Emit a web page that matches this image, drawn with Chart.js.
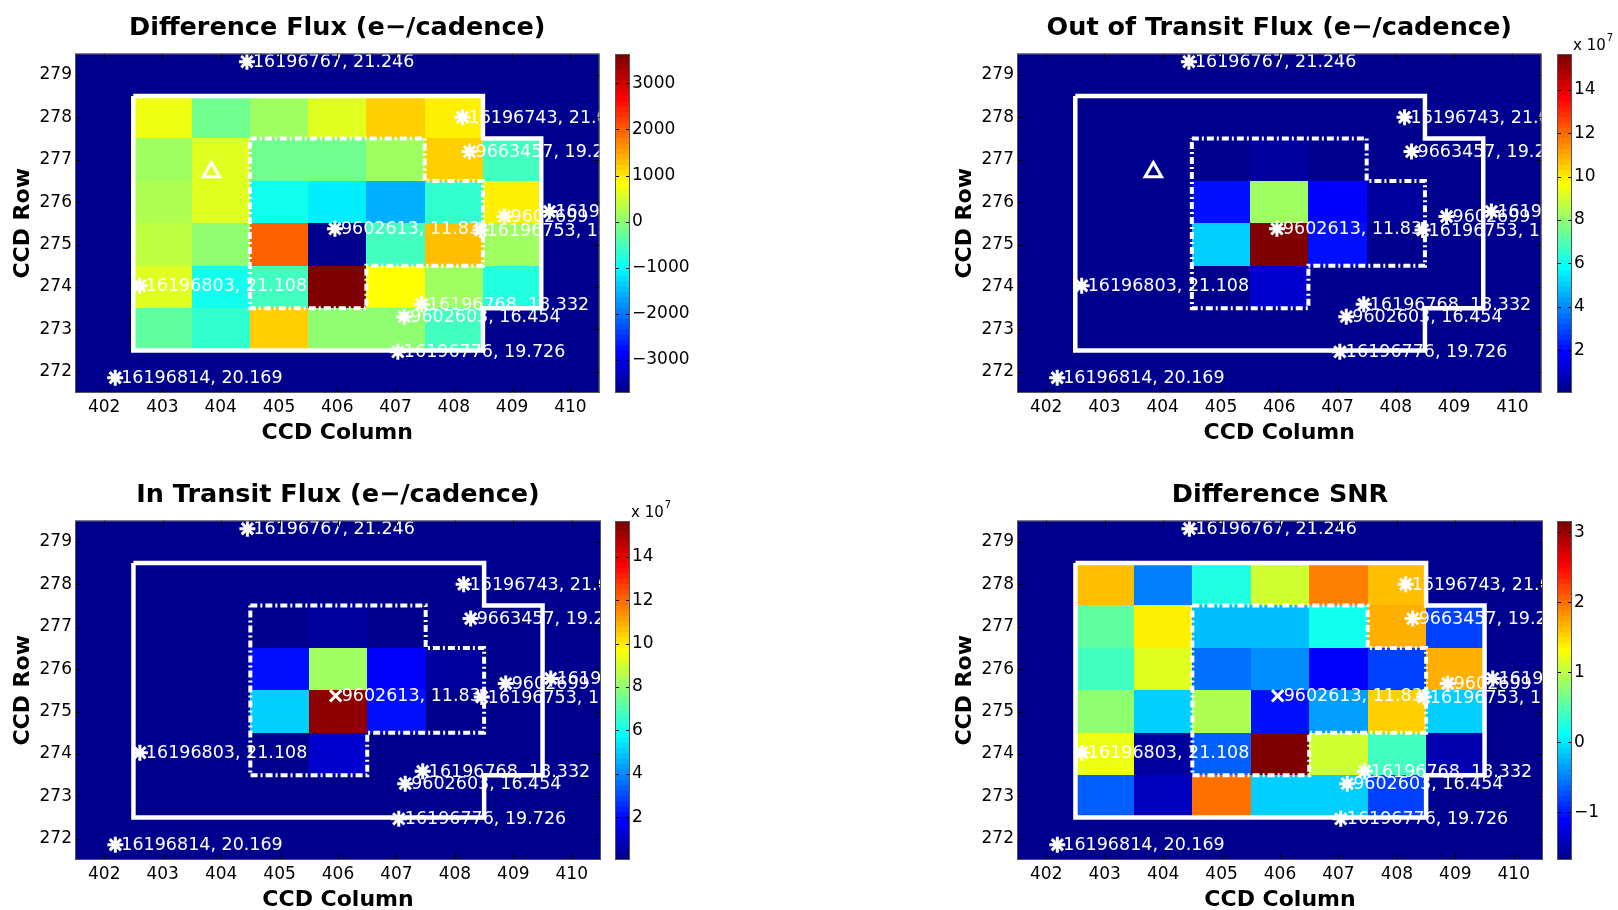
<!DOCTYPE html>
<html>
<head>
<meta charset="utf-8">
<script src="https://cdn.jsdelivr.net/npm/chart.js@4.4.1/dist/chart.umd.min.js"></script>
<style>
  html, body { margin: 0; padding: 0; background: #fff; width: 1618px; height: 910px; overflow: hidden; }
  canvas { position: absolute; }
</style>
</head>
<body>
<canvas id="p1" width="612" height="445" style="left:0;top:0"></canvas>
<canvas id="c1" width="90" height="445" style="left:612px;top:0"></canvas>
<canvas id="p2" width="612" height="445" style="left:942px;top:0"></canvas>
<canvas id="c2" width="64" height="445" style="left:1554px;top:0"></canvas>
<canvas id="p3" width="612" height="445" style="left:0;top:467px"></canvas>
<canvas id="c3" width="90" height="445" style="left:612px;top:467px"></canvas>
<canvas id="p4" width="612" height="445" style="left:942px;top:467px"></canvas>
<canvas id="c4" width="64" height="445" style="left:1554px;top:467px"></canvas>
<script>
// ─── Data ────────────────────────────────────────────────────────────────

const COLS = [403, 404, 405, 406, 407, 408, 409];
const ROWS = [278, 277, 276, 275, 274, 273];
const X_TICKS = [402, 403, 404, 405, 406, 407, 408, 409, 410];
const Y_TICKS = [272, 273, 274, 275, 276, 277, 278, 279];

// pixel values, rows top to bottom, null = outside aperture
const diffFlux = [
  [720, -190, 150, 610, 1180, 950, null],
  [150, 610, -190, -190, 150, 1180, -530],
  [270, 610, -880, -1110, -1560, -650, 950],
  [380, 40, 1980, -3620, -530, 1300, 150],
  [610, -880, -530, 3590, 840, 150, -760],
  [-300, -650, 1180, 40, 40, -530, null],
];

// e-/cadence, x 10^7
const outFlux = [
  [0.12, 0.13, 0.15, 0.16, 0.15, 0.13, null],
  [0.14, 0.17, 0.20, 0.45, 0.22, 0.16, 0.12],
  [0.15, 0.19, 2.10, 8.20, 1.90, 0.50, 0.14],
  [0.16, 0.21, 5.00, 15.5, 2.20, 0.22, 0.15],
  [0.14, 0.18, 0.22, 1.10, 0.21, 0.15, 0.13],
  [0.12, 0.14, 0.16, 0.17, 0.15, 0.13, null],
];

const inFlux = [
  [0.12, 0.13, 0.15, 0.16, 0.15, 0.13, null],
  [0.14, 0.17, 0.20, 0.44, 0.22, 0.16, 0.12],
  [0.15, 0.19, 2.05, 8.10, 1.88, 0.48, 0.14],
  [0.16, 0.21, 4.95, 15.3, 2.15, 0.21, 0.15],
  [0.14, 0.18, 0.22, 1.08, 0.21, 0.15, 0.13],
  [0.12, 0.14, 0.16, 0.17, 0.15, 0.13, null],
];

const diffSnr = [
  [1.61, -0.51, 0.25, 1.08, 1.92, 1.61, null],
  [0.55, 1.38, -0.21, -0.21, 0.17, 1.69, -0.81],
  [0.40, 1.15, -0.58, -0.43, -1.10, -0.81, 1.69],
  [0.78, -0.13, 0.93, -1.04, -0.36, 1.54, -0.13],
  [1.23, -1.57, -0.66, 3.12, 1.08, 0.40, -1.49],
  [-0.66, -1.42, 1.99, -0.13, -0.13, -0.81, null],
];

// colour ranges and colourbar ticks
const DIFF_RANGE = [-3716, 3636];
const DIFF_TICKS = [-3000, -2000, -1000, 0, 1000, 2000, 3000];
const FLUX_RANGE = [0.02, 15.66];
const FLUX_TICKS = [2, 4, 6, 8, 10, 12, 14];
const SNR_RANGE = [-1.68, 3.16];
const SNR_TICKS = [-1, 0, 1, 2, 3];

// aperture outlines (pixel edges)
const APERTURE_X = [402.5, 408.5, 408.5, 409.5, 409.5, 408.5, 408.5, 402.5, 402.5];
const APERTURE_Y = [278.5, 278.5, 277.5, 277.5, 273.5, 273.5, 272.5, 272.5, 278.5];
const OPTIMAL_X = [404.5, 407.5, 407.5, 408.5, 408.5, 406.5, 406.5, 404.5, 404.5];
const OPTIMAL_Y = [277.5, 277.5, 276.5, 276.5, 274.5, 274.5, 273.5, 273.5, 277.5];

// nearby stars
const STAR_X = [404.45, 408.15, 408.27, 409.64, 408.87, 408.46, 405.96, 402.61, 407.45, 407.15, 407.04, 402.19];
const STAR_Y = [279.31, 278.00, 277.19, 275.78, 275.66, 275.34, 275.37, 274.03, 273.59, 273.30, 272.47, 271.86];
const STAR_TEXT = ['16196767, 21.246', '16196743, 21.0', '9663457, 19.2', '16196', '9602699',
  '16196753, 18', '9602613, 11.83', '16196803, 21.108', '16196768, 18.332',
  '9602603, 16.454', '16196776, 19.726', '16196814, 20.169'];
const TARGET_INDEX = 6;

// centroid triangle
const TRIANGLE_X = [403.84];
const TRIANGLE_Y = [276.71];

// ─── Colour map (MATLAB jet, 64 levels) ──────────────────────────────────

function jet(k) {
  const c = v => Math.round(255 * Math.max(0, Math.min(1, v)));
  let r, g, b;
  if (k <= 7)       { r = 0; g = 0; b = 0.5625 + 0.0625 * k; }
  else if (k <= 23) { r = 0; g = 0.0625 * (k - 7); b = 1; }
  else if (k <= 39) { r = 0.0625 * (k - 23); g = 1; b = 1 - 0.0625 * (k - 23); }
  else if (k <= 55) { r = 1; g = 1 - 0.0625 * (k - 39); b = 0; }
  else              { r = 1 - 0.0625 * (k - 55); g = 0; b = 0; }
  return `rgb(${c(r)},${c(g)},${c(b)})`;
}

function colorFor(v, range) {
  const k = Math.floor((v - range[0]) / (range[1] - range[0]) * 64);
  return jet(Math.max(0, Math.min(63, k)));
}

const FONT = '"DejaVu Sans", "Liberation Sans", sans-serif';
Chart.defaults.font.family = FONT;
Chart.defaults.color = '#000';

const minus = v => (v < 0 ? '\u2212' + Math.abs(v) : String(v));

// ─── Plugins ─────────────────────────────────────────────────────────────

const heatmapPlugin = {
  id: 'heatmap',
  beforeDatasetsDraw(chart, args, opts) {
    const { ctx, chartArea: a, scales: { x, y } } = chart;
    ctx.save();
    ctx.fillStyle = jet(0);
    ctx.fillRect(a.left, a.top, a.width, a.height);
    opts.values.forEach((row, i) => row.forEach((v, j) => {
      if (v === null) return;
      const x0 = Math.round(x.getPixelForValue(COLS[j] - 0.5));
      const x1 = Math.round(x.getPixelForValue(COLS[j] + 0.5));
      const y0 = Math.round(y.getPixelForValue(ROWS[i] + 0.5));
      const y1 = Math.round(y.getPixelForValue(ROWS[i] - 0.5));
      ctx.fillStyle = colorFor(v, opts.range);
      ctx.fillRect(x0, y0, x1 - x0, y1 - y0);
    }));
    ctx.restore();
  },
  afterDatasetsDraw(chart) {
    const { ctx, chartArea: a, scales: { x, y } } = chart;
    // star labels, clipped to the axes
    ctx.save();
    ctx.beginPath();
    ctx.rect(a.left, a.top, a.width, a.height);
    ctx.clip();
    ctx.font = '17.5px ' + FONT;
    ctx.fillStyle = '#fff';
    ctx.textAlign = 'left';
    ctx.textBaseline = 'middle';
    STAR_TEXT.forEach((t, i) => {
      ctx.fillText(t, x.getPixelForValue(STAR_X[i]) + 6, y.getPixelForValue(STAR_Y[i]) + 1);
    });
    ctx.restore();

    // inner tick marks and box
    ctx.save();
    ctx.strokeStyle = '#000';
    ctx.lineWidth = 1;
    ctx.beginPath();
    X_TICKS.forEach(v => {
      const px = Math.round(x.getPixelForValue(v)) + 0.5;
      ctx.moveTo(px, a.bottom); ctx.lineTo(px, a.bottom - 6);
      ctx.moveTo(px, a.top); ctx.lineTo(px, a.top + 6);
    });
    Y_TICKS.forEach(v => {
      const py = Math.round(y.getPixelForValue(v)) + 0.5;
      ctx.moveTo(a.left, py); ctx.lineTo(a.left + 6, py);
      ctx.moveTo(a.right, py); ctx.lineTo(a.right - 6, py);
    });
    ctx.stroke();
    ctx.strokeStyle = '#555';
    ctx.strokeRect(a.left + 0.5, a.top + 0.5, a.width - 1, a.height - 1);
    ctx.restore();
  },
};

const colorbarPlugin = {
  id: 'colorbarDeco',
  afterDatasetsDraw(chart, args, opts) {
    const { ctx, chartArea: a, scales: { y } } = chart;
    ctx.save();
    ctx.strokeStyle = '#000';
    ctx.lineWidth = 1;
    ctx.beginPath();
    opts.ticks.forEach(v => {
      const py = Math.round(y.getPixelForValue(v)) + 0.5;
      ctx.moveTo(a.left, py); ctx.lineTo(a.left + 4, py);
      ctx.moveTo(a.right, py); ctx.lineTo(a.right - 4, py);
    });
    ctx.stroke();
    ctx.strokeStyle = '#555';
    ctx.strokeRect(a.left + 0.5, a.top + 0.5, a.width - 1, a.height - 1);
    if (opts.exponent) {
      ctx.fillStyle = '#000';
      ctx.textBaseline = 'alphabetic';
      ctx.textAlign = 'left';
      ctx.font = '15px ' + FONT;
      const base = 'x 10';
      ctx.fillText(base, a.right + 1, a.top - 4);
      const w = ctx.measureText(base).width;
      ctx.font = '10px ' + FONT;
      ctx.fillText(opts.exponent, a.right + 2 + w, a.top - 13);
    }
    ctx.restore();
  },
};

// ─── Charts ──────────────────────────────────────────────────────────────

function pts(xs, ys) {
  return xs.map((x, i) => ({ x, y: ys[i] }));
}

function renderPanel(canvasId, title, values, range, targetStyle, showTriangle) {
  const datasets = [
    {
      data: pts(APERTURE_X, APERTURE_Y),
      showLine: true, pointRadius: 0, borderColor: '#fff', borderWidth: 4.5, tension: 0,
    },
    {
      data: pts(OPTIMAL_X, OPTIMAL_Y),
      showLine: true, pointRadius: 0, borderColor: '#fff', borderWidth: 4, tension: 0,
      borderDash: [7, 3, 2, 3],
    },
    {
      data: pts(STAR_X, STAR_Y),
      pointStyle: STAR_X.map((_, i) => (i === TARGET_INDEX ? targetStyle : 'star')),
      pointRadius: 8, borderColor: '#fff', backgroundColor: '#fff', borderWidth: 3,
    },
  ];
  if (showTriangle) {
    datasets.push({
      data: pts(TRIANGLE_X, TRIANGLE_Y),
      pointStyle: 'triangle', pointRadius: 9.5,
      borderColor: '#fff', backgroundColor: 'rgba(0,0,0,0)', borderWidth: 3,
    });
  }

  new Chart(document.getElementById(canvasId), {
    type: 'scatter',
    data: { datasets },
    plugins: [heatmapPlugin],
    options: {
      responsive: false,
      animation: false,
      devicePixelRatio: 1,
      events: [],
      layout: { padding: { left: 0, right: 7, top: 0, bottom: 0 } },
      plugins: {
        legend: { display: false },
        tooltip: { enabled: false },
        title: {
          display: true, text: title, fullSize: false, color: '#000',
          font: { size: 25.5, weight: 'bold', lineHeight: 1.2 },
          padding: { top: 13, bottom: 10 },
        },
        heatmap: { values, range },
      },
      scales: {
        x: {
          type: 'linear', min: 401.5, max: 410.5,
          afterBuildTicks: s => { s.ticks = X_TICKS.map(v => ({ value: v })); },
          afterFit: s => { s.height = 52; },
          grid: { display: false, drawTicks: false },
          border: { display: false },
          ticks: { font: { size: 17 }, color: '#000', padding: 4, maxRotation: 0, autoSkip: false },
          title: {
            display: true, text: 'CCD Column', color: '#000',
            font: { size: 22, weight: 'bold', lineHeight: 1 },
            padding: { top: 0, bottom: 1 },
          },
        },
        y: {
          type: 'linear', min: 271.5, max: 279.5,
          afterBuildTicks: s => { s.ticks = Y_TICKS.map(v => ({ value: v })); },
          afterFit: s => { s.width = 75; },
          grid: { display: false, drawTicks: false },
          border: { display: false },
          ticks: { font: { size: 17 }, color: '#000', padding: 3, autoSkip: false },
          title: {
            display: true, text: 'CCD Row', color: '#000',
            font: { size: 22, weight: 'bold', lineHeight: 1 },
            padding: { top: 12, bottom: 0 },
          },
        },
      },
    },
  });
}

function renderColorbar(canvasId, range, ticks, exponent) {
  const canvas = document.getElementById(canvasId);
  const step = (range[1] - range[0]) / 64;
  const datasets = Array.from({ length: 64 }, (_, k) => ({
    data: [[range[0] + k * step, range[0] + (k + 1.02) * step]],
    backgroundColor: jet(k),
    borderWidth: 0,
    barPercentage: 1,
    categoryPercentage: 1,
    grouped: false,
  }));

  new Chart(canvas, {
    type: 'bar',
    data: { labels: [''], datasets },
    plugins: [colorbarPlugin],
    options: {
      responsive: false,
      animation: false,
      devicePixelRatio: 1,
      events: [],
      layout: { padding: { left: 3, right: 0, top: 54, bottom: canvas.height - 393 } },
      plugins: {
        legend: { display: false },
        tooltip: { enabled: false },
        colorbarDeco: { ticks, exponent },
      },
      scales: {
        x: { display: false },
        y: {
          position: 'right', min: range[0], max: range[1],
          afterBuildTicks: s => { s.ticks = ticks.map(v => ({ value: v })); },
          afterFit: s => { s.width = canvas.width - 18; },
          grid: { display: false, drawTicks: false },
          border: { display: false },
          ticks: { font: { size: 17 }, color: '#000', padding: 2, callback: v => minus(v) },
        },
      },
    },
  });
}

renderPanel('p1', 'Difference Flux (e\u2212/cadence)', diffFlux, DIFF_RANGE, 'star', true);
renderPanel('p2', 'Out of Transit Flux (e\u2212/cadence)', outFlux, FLUX_RANGE, 'star', true);
renderPanel('p3', 'In Transit Flux (e\u2212/cadence)', inFlux, FLUX_RANGE, 'crossRot', false);
renderPanel('p4', 'Difference SNR', diffSnr, SNR_RANGE, 'crossRot', false);

renderColorbar('c1', DIFF_RANGE, DIFF_TICKS, null);
renderColorbar('c2', FLUX_RANGE, FLUX_TICKS, '7');
renderColorbar('c3', FLUX_RANGE, FLUX_TICKS, '7');
renderColorbar('c4', SNR_RANGE, SNR_TICKS, null);
</script>
</body>
</html>
